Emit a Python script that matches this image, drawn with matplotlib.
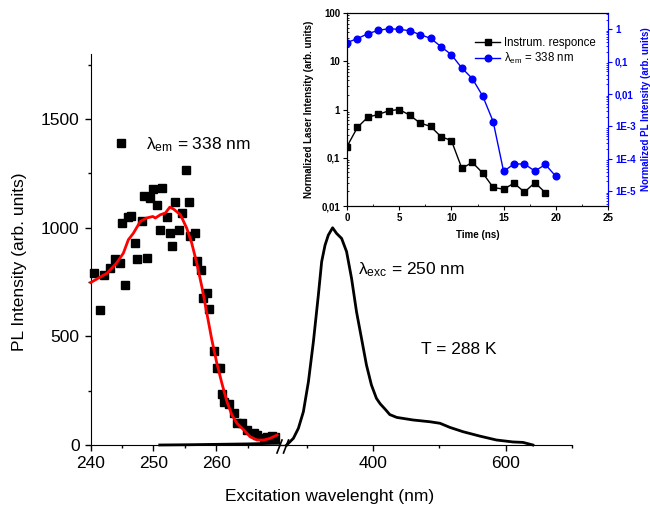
import matplotlib
matplotlib.use("Agg")
import matplotlib.pyplot as plt
from matplotlib.lines import Line2D
from matplotlib.ticker import FixedLocator, FuncFormatter, LogLocator, NullFormatter

plt.rcParams['font.family'] = ['Liberation Sans', 'DejaVu Sans']
plt.rcParams['mathtext.fontset'] = 'custom'
plt.rcParams['mathtext.rm'] = 'Liberation Sans'
plt.rcParams['mathtext.it'] = 'Liberation Sans:italic'
plt.rcParams['mathtext.bf'] = 'Liberation Sans:bold'

# ---------------- data ----------------
# excitation spectrum (black squares) at lambda_em = 338 nm
exc_wl = [240.5, 241.5, 242.1, 243.1, 243.9, 244.7, 245.0, 245.5, 246.0, 246.5,
          247.0, 247.3, 248.1, 248.5, 249.0, 249.5, 250.0, 250.5, 251.1, 251.4,
          252.1, 252.7, 253.0, 253.5, 254.0, 254.5, 255.2, 255.6, 255.9, 256.6,
          257.0, 257.6, 257.9, 258.5, 258.9, 259.6, 260.1, 260.6, 260.9, 261.3,
          262.1, 262.8, 263.3, 264.1, 264.9, 266.0, 266.5, 267.6, 268.1, 268.9, 269.4]
exc_int = [791, 622, 783, 814, 856, 837, 1021, 737, 1049, 1052,
           929, 856, 1029, 1147, 860, 1137, 1178, 1106, 991, 1183,
           1049, 975, 917, 1117, 991, 1068, 1264, 1117, 963, 978,
           845, 806, 676, 702, 625, 435, 353, 353, 235, 200,
           189, 149, 100, 103, 69, 54, 46, 31, 35, 41, 35]

# red fit curve
fit_wl = [240.0, 242.6, 244.1, 245.2, 246.0, 246.8, 247.9, 248.9, 249.9, 250.3,
          251.1, 251.9, 252.6, 253.2, 254.3, 255.3, 256.1, 256.9, 257.7, 258.5,
          259.3, 260.1, 260.9, 261.7, 262.5, 263.3, 264.4, 265.4, 266.5, 267.6,
          268.6, 269.7]
fit_int = [748, 791, 837, 883, 945, 975, 1029, 1045, 1052, 1045,
           1060, 1068, 1095, 1086, 1060, 998, 929, 837, 730, 607,
           484, 376, 284, 200, 138, 100, 69, 38, 23, 23,
           31, 46]

# emission spectrum (lambda_exc = 250 nm)
em_wl_left = [251, 255, 260, 265, 268, 270]
em_int_left = [0, 1, 3, 5, 7, 8]
em_wl = [269.6, 279.7, 287.2, 294.7, 302.3, 309.8, 317.3, 322.3, 327.4, 332.3,
         338.8, 344.8, 352.4, 359.9, 367.4, 374.9, 382.4, 389.9, 397.4, 404.9,
         410.5, 418.0, 425.1, 435.6, 460.6, 485.7, 500.8, 515.8, 535.8, 560.9,
         586.0, 611.0, 626.0, 641.0]
em_int = [0, 31, 77, 153, 291, 475, 690, 844, 920, 966,
          1000, 974, 951, 890, 767, 613, 491, 368, 276, 215,
          190, 165, 140, 127, 115, 107, 100, 81, 61, 41,
          23, 14, 12, 0]

# inset: time-resolved data
t_instr = list(range(0, 20))
instr = [0.171, 0.426, 0.695, 0.79, 0.94, 1.0, 0.765, 0.524, 0.447, 0.274,
         0.227, 0.0604, 0.080, 0.0484, 0.0242, 0.0223, 0.0297, 0.0194, 0.0306, 0.0188]
t_pl = list(range(0, 21))
pl = [0.39, 0.518, 0.736, 0.93, 1.05, 1.0, 0.91, 0.687, 0.53, 0.295,
      0.164, 0.064, 0.0302, 0.0087, 0.00142, 4.1e-5, 7.0e-5, 6.9e-5, 4.2e-5, 6.7e-5, 2.9e-5]

left_ticks = [240, 250, 260]
right_ticks = [400, 600]
y_ticks = [0, 500, 1000, 1500]
inset_left_labels = {0.01: '0,01', 0.1: '0,1', 1: '1', 10: '10', 100: '100'}
inset_right_labels = {1e-5: '1E-5', 1e-4: '1E-4', 1e-3: '1E-3', 0.01: '0,01', 0.1: '0,1', 1: '1'}

# ---------------- figure ----------------
W, H = 650, 512
fig = plt.figure(figsize=(W / 100, H / 100), dpi=100)

def rect(x0, y0, x1, y1):
    return [x0 / W, 1 - y1 / H, (x1 - x0) / W, (y1 - y0) / H]

fs = 12.5
ax1 = fig.add_axes(rect(90.7, 54, 279, 445))
ax2 = fig.add_axes(rect(287, 54, 572, 445))

for ax in (ax1, ax2):
    ax.set_ylim(0, 1800)
    ax.spines['top'].set_visible(False)
    ax.spines['right'].set_visible(False)
    ax.tick_params(which='major', direction='out', length=4.5, width=1, labelsize=fs)
    ax.tick_params(which='minor', direction='out', length=2.5, width=1)
    ax.patch.set_alpha(0)

ax1.set_xlim(240, 270)
ax1.xaxis.set_major_locator(FixedLocator(left_ticks))
ax1.xaxis.set_minor_locator(FixedLocator([245, 255, 265]))
ax1.yaxis.set_major_locator(FixedLocator(y_ticks))
ax1.yaxis.set_minor_locator(FixedLocator([250, 750, 1250, 1750]))
ax1.set_ylabel('PL Intensity (arb. units)', fontsize=fs)
ax1.yaxis.set_label_coords(-0.34, 0.468)

ax2.set_xlim(270, 700)
ax2.xaxis.set_major_locator(FixedLocator(right_ticks))
ax2.xaxis.set_minor_locator(FixedLocator([300, 500, 700]))
ax2.spines['left'].set_visible(False)
ax2.yaxis.set_visible(False)

ax1.plot(em_wl_left, em_int_left, color='black', lw=2, clip_on=False, zorder=2)
ax1.plot(exc_wl, exc_int, 's', color='black', ms=6, zorder=3, clip_on=False,
         label='λ$_{\\rm em}$ = 338 nm')
ax1.plot(fit_wl, fit_int, color='red', lw=2, zorder=4, clip_on=False)
ax2.plot(em_wl, em_int, color='black', lw=2, clip_on=False)

leg = ax1.legend(loc='upper left', bbox_to_anchor=(0.08, 0.81), frameon=False,
                 fontsize=fs, handlelength=1.0, handletextpad=0.9, borderaxespad=0)

# axis break: connect and slashes
fig.add_artist(Line2D([279 / W, 287 / W], [1 - 445 / H, 1 - 445 / H], color='black', lw=1))
for xa in (277, 283.5):
    fig.add_artist(Line2D([xa / W, (xa + 5) / W], [1 - 453 / H, 1 - 440 / H], color='black', lw=1.2))

fig.text(330 / W, 1 - 497 / H, 'Excitation wavelenght (nm)', ha='center', va='center', fontsize=fs)
fig.text(358 / W, 1 - 270 / H, 'λ$_{\\rm exc}$ = 250 nm', ha='left', va='center', fontsize=fs)
fig.text(421 / W, 1 - 350 / H, 'T = 288 K', ha='left', va='center', fontsize=fs)

# ---------------- inset ----------------
blue = '#0000ff'
axi = fig.add_axes(rect(347, 13, 608, 206))
axi.set_yscale('log')
axi.set_xlim(0, 25)
axi.set_ylim(0.01, 100)
axi.xaxis.set_major_locator(FixedLocator([0, 5, 10, 15, 20, 25]))
axi.xaxis.set_minor_locator(FixedLocator([2.5, 7.5, 12.5, 17.5, 22.5]))
axi.yaxis.set_major_locator(LogLocator(base=10, numticks=10))
axi.yaxis.set_minor_locator(LogLocator(base=10, subs=range(2, 10), numticks=10))
axi.yaxis.set_minor_formatter(NullFormatter())
axi.yaxis.set_major_formatter(FuncFormatter(lambda v, p: inset_left_labels.get(round(v, 6), '')))
axi.tick_params(which='major', direction='out', length=3, width=0.8, labelsize=7, pad=2)
axi.tick_params(which='minor', direction='in', length=1.5, width=0.6)
for lab in axi.get_xticklabels() + axi.get_yticklabels():
    lab.set_fontweight('bold')
axi.set_xlabel('Time (ns)', fontsize=7, fontweight='bold', labelpad=5)
axi.set_ylabel('Normalized Laser Intensity (arb. units)', fontsize=7, fontweight='bold', labelpad=5)

l1, = axi.plot(t_instr, instr, '-s', color='black', ms=4.2, lw=1, label='Instrum. responce')

axr = axi.twinx()
axr.set_yscale('log')
axr.set_ylim(3.5e-6, 3.2)
axr.yaxis.set_major_locator(LogLocator(base=10, numticks=10))
axr.yaxis.set_minor_locator(LogLocator(base=10, subs=range(2, 10), numticks=10))
axr.yaxis.set_minor_formatter(NullFormatter())
axr.yaxis.set_major_formatter(FuncFormatter(lambda v, p: inset_right_labels.get(float('%.0e' % v), '')))
axr.tick_params(which='major', direction='out', length=3, width=0.8, labelsize=7, pad=2,
                colors=blue)
axr.tick_params(which='minor', direction='in', length=1.5, width=0.6, colors=blue)
for lab in axr.get_yticklabels():
    lab.set_fontweight('bold')
axr.spines['right'].set_color(blue)
axr.set_ylabel('Normalized PL Intensity (arb. units)', fontsize=7, fontweight='bold',
               color=blue, labelpad=4)
l2, = axr.plot(t_pl, pl, '-o', color=blue, ms=4.8, lw=1, label='λ$_{\\rm em}$ = 338 nm')

axi.legend(handles=[l1, l2], loc='upper right', bbox_to_anchor=(0.97, 0.9), frameon=False,
           fontsize=8.3, handlelength=2.2, handletextpad=0.3, labelspacing=0.2, borderaxespad=0)
axi.set_zorder(6)
axr.set_zorder(7)
axi.patch.set_alpha(1)

fig.savefig('out.png', dpi=100)
